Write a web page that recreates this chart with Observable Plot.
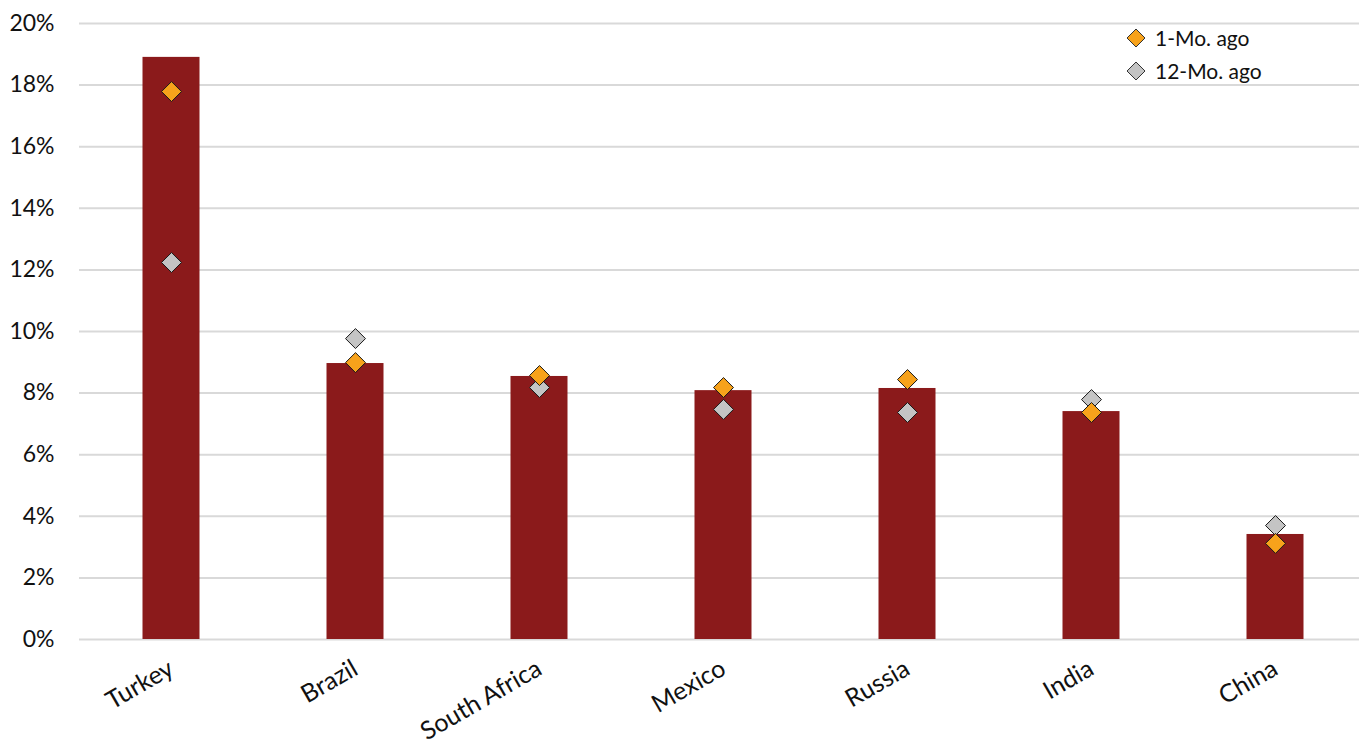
<!DOCTYPE html>
<html>
<head>
<meta charset="utf-8">
<script src="https://cdn.jsdelivr.net/npm/d3@7"></script>
<script src="https://cdn.jsdelivr.net/npm/@observablehq/plot@0.6"></script>
<style>
  html, body { margin: 0; padding: 0; background: #fff; overflow: hidden; }
  #wrap { position: relative; width: 1359px; height: 746px; font-family: Lato, "Open Sans", sans-serif; }
  #legend { position: absolute; left: 1126px; top: 21px; font-size: 21px; color: #111; line-height: 33px; }
  #legend .row { display: flex; align-items: center; }
  #legend svg { margin-right: 9px; }
</style>
</head>
<body>
<div id="wrap">
  <div id="chart"></div>
  <div id="legend"></div>
</div>
<script>
const countries = ["Turkey", "Brazil", "South Africa", "Mexico", "Russia", "India", "China"];
const current   = [18.9, 8.96, 8.54, 8.08, 8.15, 7.40, 3.41];
const oneMoAgo  = [17.79, 8.99, 8.57, 8.18, 8.44, 7.37, 3.12];
const twelveMoAgo = [12.24, 9.77, 8.18, 7.47, 7.37, 7.79, 3.70];
const yTicks = [0, 2, 4, 6, 8, 10, 12, 14, 16, 18, 20];
const seriesNames = ["1-Mo. ago", "12-Mo. ago"];
const seriesColors = ["#F7A21B", "#C4C4C4"];

const bars = countries.map((c, i) => ({country: c, value: current[i]}));
const dots = countries.flatMap((c, i) => [
  {country: c, series: seriesNames[1], value: twelveMoAgo[i]},
  {country: c, series: seriesNames[0], value: oneMoAgo[i]}
]);

const chart = Plot.plot({
  width: 1359,
  height: 746,
  marginLeft: 79,
  marginRight: 0,
  marginTop: 23,
  marginBottom: 107,
  style: {fontFamily: "Lato, 'Open Sans', sans-serif", fontSize: "22px", color: "#111", background: "#fff"},
  x: {domain: countries, range: [79, 1367], padding: 0, label: null},
  y: {domain: [0, 20], label: null},
  color: {domain: seriesNames, range: seriesColors},
  marks: [
    Plot.ruleY(yTicks, {stroke: "#d9d9d9", strokeWidth: 2}),
    Plot.barY(bars, {x: "country", y: "value", fill: "#8B1A1B", insetLeft: 63.5, insetRight: 63.5}),
    Plot.dot(dots, {x: "country", y: "value", symbol: "diamond2", r: 9, fill: "series", stroke: "#1a1a1a", strokeWidth: 1}),
    Plot.axisY({ticks: yTicks, tickSize: 0, tickPadding: 25, tickFormat: d => d + "%", fontSize: 23}),
    Plot.axisX({tickSize: 0, tickPadding: 27, tickRotate: -30, fontSize: 25})
  ]
});
document.getElementById("chart").appendChild(chart);

const legend = document.getElementById("legend");
seriesNames.forEach((name, i) => {
  const row = document.createElement("div");
  row.className = "row";
  row.innerHTML = `<svg width="20" height="20" viewBox="-10 -10 20 20"><path d="M0,-9L9,0L0,9L-9,0Z" fill="${seriesColors[i]}" stroke="#333" stroke-width="1"/></svg><span>${name}</span>`;
  legend.appendChild(row);
});
</script>
</body>
</html>
